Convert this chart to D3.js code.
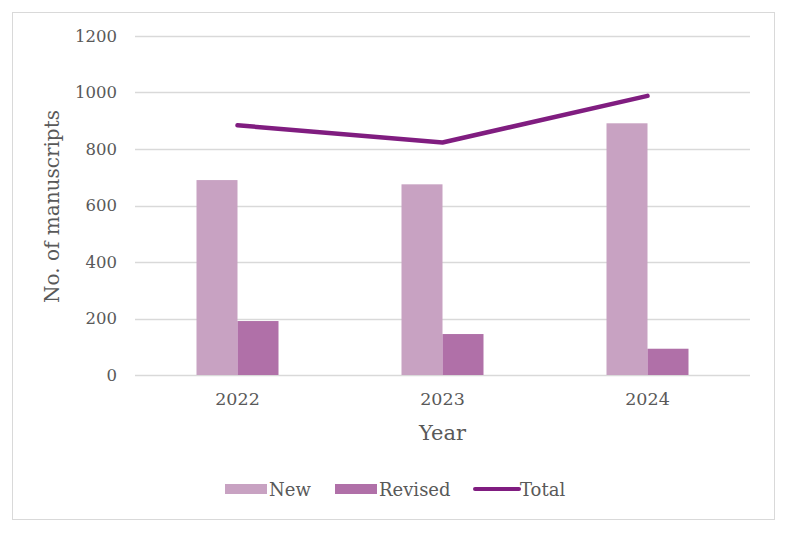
<!DOCTYPE html>
<html><head><meta charset="utf-8">
<script src="https://cdn.jsdelivr.net/npm/d3@7"></script>
<style>body{margin:0;background:#fff}svg{display:block}</style>
</head><body>
<script>
const years = ["2022", "2023", "2024"];
const newValues = [690, 675, 891];
const revisedValues = [191, 145, 93];
const totalValues = [884, 823, 988];
const yTicks = [0, 200, 400, 600, 800, 1000, 1200];
const seriesNames = ["New", "Revised", "Total"];
const colors = {New: "#c8a2c2", Revised: "#b070a8", Total: "#801d80"};
const font = "'DejaVu Serif', 'Liberation Serif', serif";

const W = 786, H = 533;
const svg = d3.select("body").append("svg").attr("width", W).attr("height", H);
svg.append("rect").attr("x", 12.5).attr("y", 12.5).attr("width", 762).attr("height", 507)
  .attr("fill", "#fff").attr("stroke", "#d9d9d9");

const m = {left: 135, right: 750, top: 36, bottom: 375};
const x = d3.scaleBand().domain(years).range([m.left, m.right]).paddingInner(0).paddingOuter(0);
const y = d3.scaleLinear().domain([0, 1200]).range([m.bottom, m.top]);
const inner = d3.scaleBand().domain(["New", "Revised"]).range([0, x.bandwidth()]).paddingInner(0).paddingOuter(1.5);

// gridlines
svg.append("g").selectAll("line").data(yTicks).join("line")
  .attr("x1", m.left).attr("x2", m.right)
  .attr("y1", d => Math.round(y(d)) + 0.5).attr("y2", d => Math.round(y(d)) + 0.5)
  .attr("stroke", "#d9d9d9").attr("stroke-width", 1.5);

// y tick labels
const yAxis = d3.axisLeft(y).tickValues(yTicks).tickFormat(d3.format("d")).tickSize(0).tickPadding(0);
const gy = svg.append("g").attr("transform", `translate(${m.left - 18},0)`).call(yAxis);
gy.select(".domain").remove();
gy.selectAll("text").attr("font-family", font).attr("font-size", 16.5).attr("fill", "#595959");

// bars
const data = years.map((yr, i) => ({year: yr, New: newValues[i], Revised: revisedValues[i]}));
const groups = svg.append("g").selectAll("g").data(data).join("g")
  .attr("transform", d => `translate(${x(d.year)},0)`);
groups.selectAll("rect").data(d => ["New", "Revised"].map(k => ({k, v: d[k]}))).join("rect")
  .attr("x", d => inner(d.k)).attr("width", inner.bandwidth())
  .attr("y", d => y(d.v)).attr("height", d => y(0) - y(d.v))
  .attr("fill", d => colors[d.k]);

// total line
const line = d3.line().x((d, i) => x(years[i]) + x.bandwidth() / 2).y(d => y(d));
svg.append("path").datum(totalValues).attr("d", line)
  .attr("fill", "none").attr("stroke", colors.Total).attr("stroke-width", 4.5)
  .attr("stroke-linecap", "round").attr("stroke-linejoin", "round");

// x axis labels
const xAxis = d3.axisBottom(x).tickSize(0).tickPadding(0);
const gx = svg.append("g").attr("transform", `translate(0,${m.bottom + 18})`).call(xAxis);
gx.select(".domain").remove();
gx.selectAll("text").attr("font-family", font).attr("font-size", 17.5).attr("fill", "#595959");

// axis titles
svg.append("text").attr("x", (m.left + m.right) / 2).attr("y", 440).attr("text-anchor", "middle")
  .attr("font-family", font).attr("font-size", 21).attr("fill", "#595959").text("Year");
svg.append("text").attr("transform", `translate(59,${(m.top + m.bottom) / 2 + 1}) rotate(-90)`)
  .attr("text-anchor", "middle").attr("font-family", font).attr("font-size", 20).attr("fill", "#595959")
  .text("No. of manuscripts");

// legend
const legendItems = [
  {name: seriesNames[0], x: 225, type: "rect"},
  {name: seriesNames[1], x: 335, type: "rect"},
  {name: seriesNames[2], x: 473, type: "line"}
];
const lg = svg.append("g");
legendItems.forEach(it => {
  if (it.type === "rect") {
    lg.append("rect").attr("x", it.x).attr("y", 484).attr("width", 42).attr("height", 10).attr("fill", colors[it.name]);
  } else {
    lg.append("line").attr("x1", it.x + 2).attr("x2", it.x + 46).attr("y1", 489).attr("y2", 489)
      .attr("stroke", colors[it.name]).attr("stroke-width", 4).attr("stroke-linecap", "round");
  }
  lg.append("text").attr("x", it.x + (it.type === "rect" ? 44 : 47)).attr("y", 496)
    .attr("font-family", font).attr("font-size", 18).attr("fill", "#595959").text(it.name);
});
</script>
</body></html>
